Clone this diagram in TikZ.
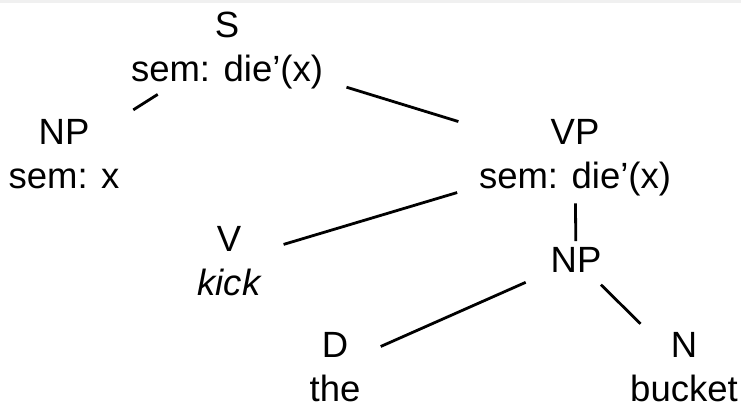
\documentclass[tikz,border=0pt]{standalone}
\usepackage{fontspec}
\setmainfont{Liberation Sans}
\begin{document}
\begin{tikzpicture}[x=1pt,y=-1pt,
  lab/.style={anchor=north, align=center, inner sep=0pt, outer sep=0pt,
    font=\fontsize{36.5}{44}\selectfont, text=black},
  edge/.style={line width=2.8pt, black}]
\useasboundingbox (0,0) rectangle (741,406);
\fill[gray!12] (0,0) rectangle (741,3);
\node[lab] (s)   at (227,12)  {S\\sem: die’(x)};
\node[lab] (np)  at (64,119)  {NP\\sem: x};
\node[lab] (vp)  at (575,119) {VP\\sem: die’(x)};
\node[lab] (v)   at (229,226) {V\\\itshape kick};
\node[lab] (np2) at (576,247.5) {NP};
\node[lab] (d)   at (335,332) {D\\the};
\node[lab] (n)   at (684,332) {N\\bucket};
\draw[edge, shorten <=82pt, shorten >=82pt] (s.center) -- (np.center);
\draw[edge, shorten <=125pt, shorten >=122pt] (s.center) -- (vp.center);
\draw[edge, shorten <=123pt, shorten >=57pt] (vp.center) -- (v.center);
\draw[edge, shorten <=46pt, shorten >=19pt] (vp.center) -- (np2.center);
\draw[edge, shorten <=55pt, shorten >=50pt] (np2.center) -- (d.center);
\draw[edge, shorten <=35pt, shorten >=61pt] (np2.center) -- (n.center);
\end{tikzpicture}
\end{document}
